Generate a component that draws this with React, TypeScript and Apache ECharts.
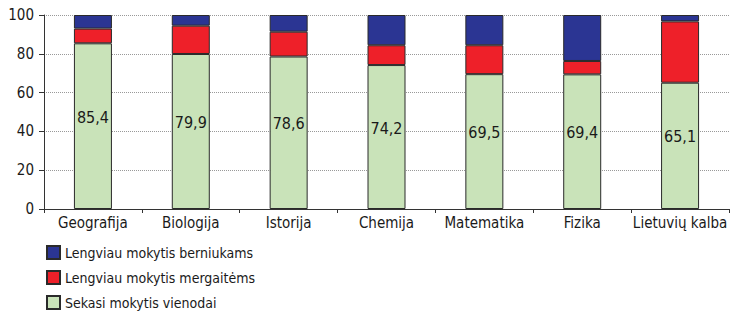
import React, { useEffect, useRef } from "react";
import * as echarts from "echarts";

const categories = ["Geografija", "Biologija", "Istorija", "Chemija", "Matematika", "Fizika", "Lietuvių kalba"];
const sameValues = [85.4, 79.9, 78.6, 74.2, 69.5, 69.4, 65.1];
const girlsValues = [7.6, 14.6, 12.8, 10.2, 14.9, 6.9, 31.6];
const boysValues = [7.0, 5.5, 8.6, 15.6, 15.6, 23.7, 3.3];
const seriesNames = ["Sekasi mokytis vienodai", "Lengviau mokytis mergaitėms", "Lengviau mokytis berniukams"];
const legendOrder = ["Lengviau mokytis berniukams", "Lengviau mokytis mergaitėms", "Sekasi mokytis vienodai"];

const FONT = "'Liberation Sans Narrow', 'DejaVu Sans Condensed', 'Roboto Condensed', 'Liberation Sans', sans-serif";

export default function App() {
  const ref = useRef<HTMLDivElement>(null);
  useEffect(() => {
    if (!ref.current) return;
    const chart = echarts.init(ref.current, null, { renderer: "svg" });
    const border = { borderColor: "#2a2a2a", borderWidth: 1 };
    chart.setOption({
      animation: false,
      textStyle: { fontFamily: FONT, color: "#1a1a1a" },
      grid: { left: 44, right: 3, top: 15, bottom: 104 },
      legend: {
        orient: "vertical",
        left: 46,
        top: 245,
        height: 68,
        padding: 0,
        itemWidth: 13,
        itemHeight: 13,
        itemGap: 10,
        data: legendOrder,
        textStyle: { fontFamily: FONT, fontSize: 14, color: "#1a1a1a" },
        icon: "rect",
      },
      xAxis: {
        type: "category",
        data: categories,
        axisLine: { lineStyle: { color: "#333", width: 1 } },
        axisTick: { show: true, length: 4, alignWithLabel: false, lineStyle: { color: "#333" } },
        axisLabel: { interval: 0, fontFamily: FONT, fontSize: 15, color: "#1a1a1a", margin: 6 },
      },
      yAxis: {
        type: "value",
        min: 0,
        max: 100,
        interval: 20,
        axisLine: { show: true, lineStyle: { color: "#333", width: 1 } },
        axisTick: { show: true, length: 5, lineStyle: { color: "#333" } },
        axisLabel: { fontFamily: FONT, fontSize: 15, color: "#1a1a1a", margin: 10 },
        splitLine: { show: true, lineStyle: { type: "dotted", color: "#999", width: 1 } },
      },
      series: [
        {
          name: seriesNames[0],
          type: "bar",
          stack: "all",
          data: sameValues,
          barWidth: 38,
          itemStyle: { color: "#c9e3b9", ...border },
          label: {
            show: true,
            position: "inside",
            offset: [0, -9],
            fontFamily: FONT,
            fontSize: 16,
            color: "#1a1a1a",
            formatter: (p: any) => String(p.value).replace(".", ","),
          },
        },
        {
          name: seriesNames[1],
          type: "bar",
          stack: "all",
          data: girlsValues,
          barWidth: 38,
          itemStyle: { color: "#ee2029", ...border },
        },
        {
          name: seriesNames[2],
          type: "bar",
          stack: "all",
          data: boysValues,
          barWidth: 38,
          itemStyle: { color: "#2b3593", ...border },
        },
      ],
    });
    return () => chart.dispose();
  }, []);
  return <div ref={ref} style={{ width: 732, height: 313, position: "absolute", left: 0, top: 0 }} />;
}
